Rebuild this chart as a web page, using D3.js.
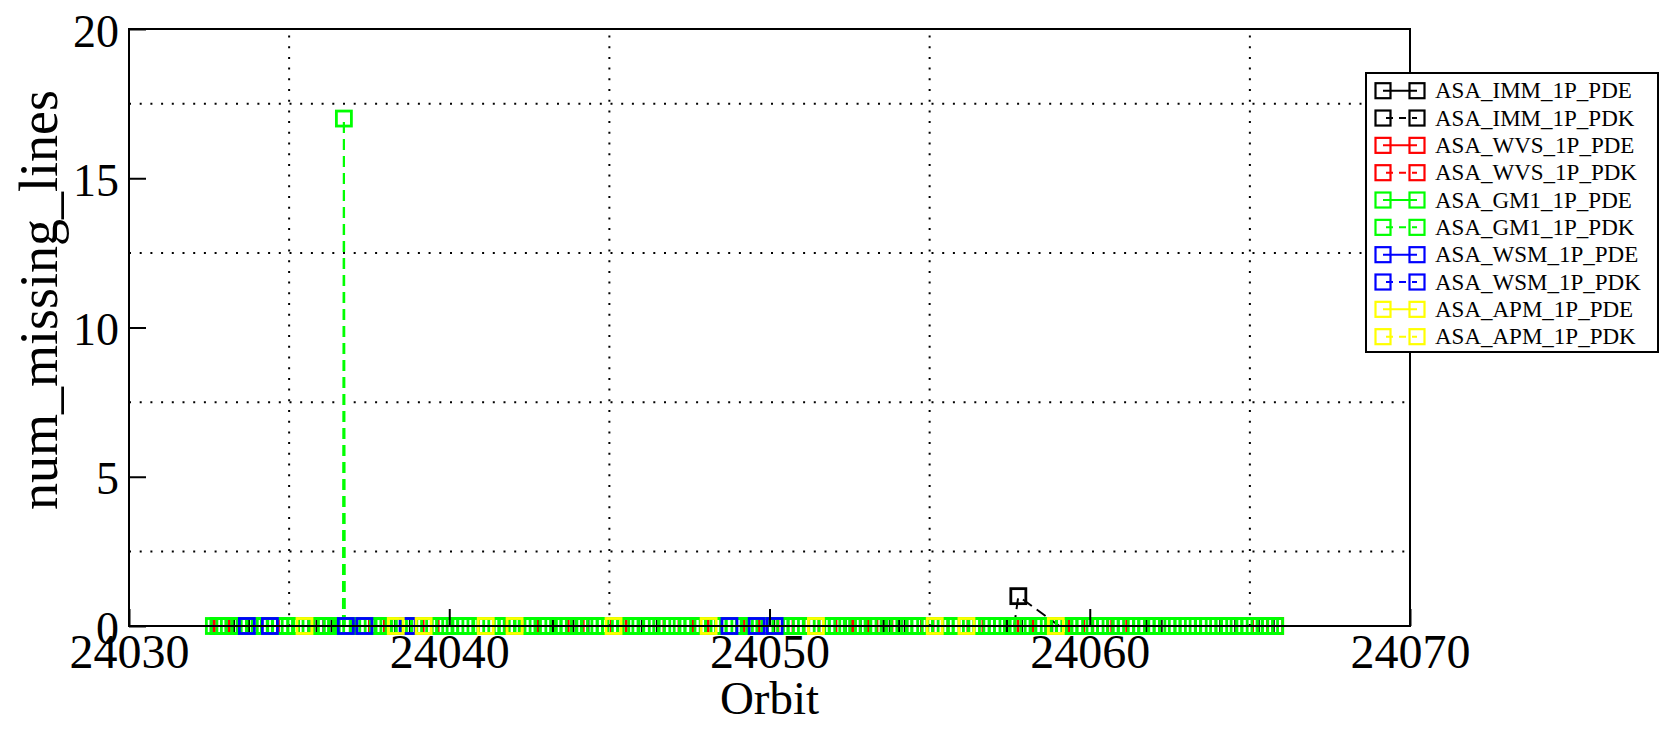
<!DOCTYPE html>
<html><head><meta charset="utf-8">
<script src="https://cdn.jsdelivr.net/npm/d3@7/dist/d3.min.js"></script>
<style>
body{margin:0;background:#fff}
svg{display:block}
text{font-family:"Liberation Serif","Times New Roman",serif;fill:#000}
</style>
</head><body>
<svg id="c" width="1668" height="732"></svg>
<script>
// ---- data ----
const xDomain = [24030, 24070];
const yDomain = [0, 20];
const xTickValues = [24030, 24040, 24050, 24060, 24070];
const yTickValues = [0, 5, 10, 15, 20];
const xGridValues = [24035, 24045, 24055, 24065];
const yGridValues = [2.5, 7.5, 12.5, 17.5];
const xLabel = "Orbit";
const yLabel = "num_missing_lines";

const immPde = [[24032.8,0],[24035.85,0],[24038.3,0],[24043.0,0],[24046.26,0],[24052.6,0],[24054.0,0],[24058.4,0],[24064.32,0]];
const immPdk = [[24033.5,0],[24036.1,0],[24038.55,0],[24044.1,0],[24049.9,0],[24053.8,0],[24054.52,0],[24057.64,0],[24057.77,1],[24059.05,0],[24062.0,0],[24065.5,0]];
const wvsPde = [[24032.9,0],[24037.74,0],[24042.01,0],[24043.95,0],[24046.94,0],[24049.44,0],[24051.31,0],[24052.84,0],[24054.52,0],[24056.43,0],[24058.92,0],[24060.33,0],[24065.32,0]];
const wvsPdk = [[24034.9,0],[24039.42,0],[24042.51,0],[24045.29,0],[24047.85,0],[24050.5,0],[24052.31,0],[24053.59,0],[24055.34,0],[24057.99,0],[24059.58,0],[24060.92,0],[24065.79,0]];
const gm1Pde = [[24032.65,0],[24032.98,0],[24033.27,0],[24033.61,0],[24033.9,0],[24034.24,0],[24034.55,0],[24034.87,0],[24035.2,0],[24035.53,0],[24035.86,0],[24036.15,0],[24036.47,0],[24036.8,0],[24037.14,0],[24037.44,0],[24037.79,0],[24038.1,0],[24038.43,0],[24038.72,0],[24039.06,0],[24039.37,0],[24039.7,0],[24040.03,0],[24040.35,0],[24040.66,0],[24041.0,0],[24041.31,0],[24041.64,0],[24041.95,0],[24042.29,0],[24042.6,0],[24042.93,0],[24043.25,0],[24043.58,0],[24043.89,0],[24044.22,0],[24044.55,0],[24044.86,0],[24045.19,0],[24045.5,0],[24045.84,0],[24046.15,0],[24046.48,0],[24046.79,0],[24047.12,0],[24047.44,0],[24047.77,0],[24048.08,0],[24048.41,0],[24048.73,0],[24049.06,0],[24049.37,0],[24049.7,0],[24050.02,0],[24050.34,0],[24050.67,0],[24050.98,0],[24051.31,0],[24051.63,0],[24051.96,0],[24052.27,0],[24052.6,0],[24052.92,0],[24053.25,0],[24053.56,0],[24053.89,0],[24054.21,0],[24054.53,0],[24054.86,0],[24055.18,0],[24055.5,0],[24055.82,0],[24056.15,0],[24056.46,0],[24056.79,0],[24057.1,0],[24057.43,0],[24057.75,0],[24058.08,0],[24058.39,0],[24058.72,0],[24059.04,0],[24059.36,0],[24059.68,0],[24060.01,0],[24060.32,0],[24060.65,0],[24060.97,0],[24061.29,0],[24061.61,0],[24061.94,0],[24062.25,0],[24062.58,0],[24062.9,0],[24063.22,0],[24063.54,0],[24063.87,0],[24064.18,0],[24064.51,0],[24064.83,0],[24065.15,0],[24065.47,0],[24065.79,0]];
const gm1Pdk = [[24032.8,0],[24033.45,0],[24034.1,0],[24034.72,0],[24035.38,0],[24036.0,0],[24036.68,0],[24036.71,17],[24036.74,0],[24037.3,0],[24037.95,0],[24038.58,0],[24039.22,0],[24039.85,0],[24040.5,0],[24041.15,0],[24041.8,0],[24042.44,0],[24043.08,0],[24043.73,0],[24044.38,0],[24045.02,0],[24045.66,0],[24046.3,0],[24046.95,0],[24047.6,0],[24048.24,0],[24048.88,0],[24049.53,0],[24050.17,0],[24050.82,0],[24051.46,0],[24052.1,0],[24052.75,0],[24053.4,0],[24054.04,0],[24054.68,0],[24055.33,0],[24055.97,0],[24056.62,0],[24057.26,0],[24057.9,0],[24058.55,0],[24059.2,0],[24059.84,0],[24060.48,0],[24061.13,0],[24061.77,0],[24062.42,0],[24063.06,0],[24063.7,0],[24064.35,0],[24064.99,0],[24065.63,0]];
const wsmPde = [[24033.68,0],[24036.77,0],[24048.75,0],[24049.6,0]];
const wsmPdk = [[24034.4,0],[24037.35,0],[24038.7,0],[24050.16,0]];
const apmPde = [[24035.48,0],[24039.2,0],[24042.04,0],[24048.1,0],[24055.16,0],[24058.94,0]];
const apmPdk = [[24038.33,0],[24041.14,0],[24045.13,0],[24051.45,0],[24056.15,0]];

const seriesNames = ["ASA_IMM_1P_PDE","ASA_IMM_1P_PDK","ASA_WVS_1P_PDE","ASA_WVS_1P_PDK","ASA_GM1_1P_PDE","ASA_GM1_1P_PDK","ASA_WSM_1P_PDE","ASA_WSM_1P_PDK","ASA_APM_1P_PDE","ASA_APM_1P_PDK"];
const seriesData = [immPde, immPdk, wvsPde, wvsPdk, gm1Pde, gm1Pdk, wsmPde, wsmPdk, apmPde, apmPdk];

// ---- styles ----
const colors = ["#000000","#000000","#ff0000","#ff0000","#00ff00","#00ff00","#0000ff","#0000ff","#ffff00","#ffff00"];
const dashed = [false,true,false,true,false,true,false,true,false,true];

const svg = d3.select("#c");
svg.append("rect").attr("width",1668).attr("height",732).attr("fill","#fff");

const L = 129, R = 1410, T = 29, B = 626;
const x = d3.scaleLinear().domain(xDomain).range([L, R]);
const y = d3.scaleLinear().domain(yDomain).range([B, T]);

// grid (minor ticks)
const grid = svg.append("g").attr("stroke","#000").attr("stroke-width",2).attr("stroke-dasharray","2,8.7");
grid.selectAll("line.gx").data(xGridValues).join("line")
  .attr("x1",d=>x(d)).attr("x2",d=>x(d)).attr("y1",B).attr("y2",T);
grid.selectAll("line.gy").data(yGridValues).join("line")
  .attr("y1",d=>y(d)).attr("y2",d=>y(d)).attr("x1",L).attr("x2",R);

// series
const line = d3.line().x(d=>x(d[0])).y(d=>y(d[1]));
const MS = 15;
seriesData.forEach((pts,i)=>{
  const g = svg.append("g");
  if (!dashed[i]) {
    g.append("path").attr("d",line(pts)).attr("fill","none")
      .attr("stroke",colors[i]).attr("stroke-width",2);
  } else {
    const segs = d3.pairs(pts).map(([a,b]) => (a[1] > b[1]) ? [b,a] : [a,b]);
    g.selectAll("path").data(segs).join("path")
      .attr("d",d=>line(d)).attr("fill","none")
      .attr("stroke",colors[i]).attr("stroke-width",2)
      .attr("stroke-dasharray","11,6");
  }
  g.selectAll("rect").data(pts).join("rect")
    .attr("x",d=>x(d[0])-MS/2).attr("y",d=>y(d[1])-MS/2)
    .attr("width",MS).attr("height",MS)
    .attr("fill","none").attr("stroke",colors[i]).attr("stroke-width",2.8);
});

// frame & axes
svg.append("rect").attr("x",L).attr("y",T).attr("width",R-L).attr("height",B-T)
  .attr("fill","none").attr("stroke","#000").attr("stroke-width",2);

const xAxis = d3.axisBottom(x).tickValues(xTickValues).tickSize(-17).tickPadding(0).tickFormat(d3.format("d"));
const gx = svg.append("g").attr("transform",`translate(0,${B})`).call(xAxis);
gx.select(".domain").remove();
gx.selectAll(".tick line").attr("stroke","#000").attr("stroke-width",2);
gx.selectAll(".tick text").attr("font-size",48).attr("font-family","Liberation Serif").attr("fill","#000")
  .attr("y",42).attr("dy",0);

const yAxis = d3.axisLeft(y).tickValues(yTickValues).tickSize(-17).tickPadding(10).tickFormat(d3.format("d"));
const gy = svg.append("g").attr("transform",`translate(${L},0)`).call(yAxis);
gy.select(".domain").remove();
gy.selectAll(".tick line").attr("stroke","#000").attr("stroke-width",2);
gy.selectAll(".tick text").attr("font-size",46).attr("font-family","Liberation Serif").attr("fill","#000")
  .attr("x",-10).attr("dy",0).attr("y",17);

// axis labels
svg.append("text").attr("x",(L+R)/2).attr("y",714).attr("text-anchor","middle")
  .attr("font-size",47).text(xLabel);
svg.append("text").attr("transform","translate(57,300) rotate(-90)").attr("text-anchor","middle")
  .attr("font-size",54).text(yLabel);

// legend
const lg = svg.append("g");
lg.append("rect").attr("x",1366).attr("y",73).attr("width",292).attr("height",279)
  .attr("fill","#fff").attr("stroke","#000").attr("stroke-width",2);
seriesNames.forEach((name,i)=>{
  const cy = 90.7 + i*27.33;
  const x1 = 1383, x2 = 1417;
  lg.append("line").attr("x1",x1).attr("x2",x2).attr("y1",cy).attr("y2",cy)
    .attr("stroke",colors[i]).attr("stroke-width",2)
    .attr("stroke-dasharray",dashed[i]?"7,6":null)
    .attr("stroke-dashoffset",dashed[i]?-3:null);
  [x1,x2].forEach(cx=>{
    lg.append("rect").attr("x",cx-7.5).attr("y",cy-7.5).attr("width",15).attr("height",15)
      .attr("fill","none").attr("stroke",colors[i]).attr("stroke-width",2.2);
  });
  lg.append("text").attr("x",1435).attr("y",cy+7.5).attr("font-size",23).text(name);
});
</script>
</body></html>
